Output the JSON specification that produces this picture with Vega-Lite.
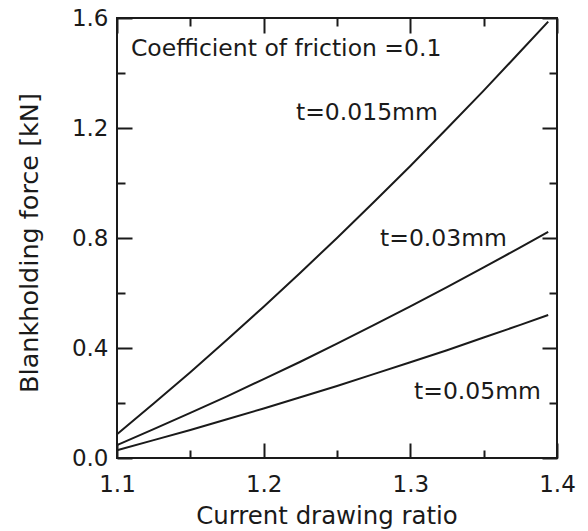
{
  "$schema": "https://vega.github.io/schema/vega-lite/v6.json",
  "width": 440,
  "height": 440,
  "autosize": {"type": "none"},
  "padding": {"left": 117, "top": 18, "right": 31, "bottom": 73},
  "background": "white",
  "config": {
    "font": "DejaVu Sans",
    "view": {"stroke": "#1a1a1a", "strokeWidth": 2},
    "axis": {"grid": false, "domain": false, "tickColor": "#1a1a1a", "tickWidth": 2, "labelColor": "#1a1a1a", "titleColor": "#1a1a1a", "labelFlush": false, "labelOverlap": false, "labelBound": false, "titleFontWeight": "normal"}
  },
  "datasets": {
    "curves": [
      {"ratio": 1.1, "force": 0.086, "t": "0.015"},
      {"ratio": 1.125, "force": 0.198, "t": "0.015"},
      {"ratio": 1.15, "force": 0.312, "t": "0.015"},
      {"ratio": 1.175, "force": 0.430, "t": "0.015"},
      {"ratio": 1.2, "force": 0.550, "t": "0.015"},
      {"ratio": 1.225, "force": 0.674, "t": "0.015"},
      {"ratio": 1.25, "force": 0.800, "t": "0.015"},
      {"ratio": 1.275, "force": 0.930, "t": "0.015"},
      {"ratio": 1.3, "force": 1.062, "t": "0.015"},
      {"ratio": 1.325, "force": 1.198, "t": "0.015"},
      {"ratio": 1.35, "force": 1.336, "t": "0.015"},
      {"ratio": 1.375, "force": 1.478, "t": "0.015"},
      {"ratio": 1.394, "force": 1.587, "t": "0.015"},
      {"ratio": 1.1, "force": 0.047, "t": "0.03"},
      {"ratio": 1.125, "force": 0.105, "t": "0.03"},
      {"ratio": 1.15, "force": 0.164, "t": "0.03"},
      {"ratio": 1.175, "force": 0.224, "t": "0.03"},
      {"ratio": 1.2, "force": 0.287, "t": "0.03"},
      {"ratio": 1.225, "force": 0.350, "t": "0.03"},
      {"ratio": 1.25, "force": 0.416, "t": "0.03"},
      {"ratio": 1.275, "force": 0.483, "t": "0.03"},
      {"ratio": 1.3, "force": 0.551, "t": "0.03"},
      {"ratio": 1.325, "force": 0.621, "t": "0.03"},
      {"ratio": 1.35, "force": 0.693, "t": "0.03"},
      {"ratio": 1.375, "force": 0.766, "t": "0.03"},
      {"ratio": 1.394, "force": 0.822, "t": "0.03"},
      {"ratio": 1.1, "force": 0.028, "t": "0.05"},
      {"ratio": 1.125, "force": 0.065, "t": "0.05"},
      {"ratio": 1.15, "force": 0.102, "t": "0.05"},
      {"ratio": 1.175, "force": 0.141, "t": "0.05"},
      {"ratio": 1.2, "force": 0.180, "t": "0.05"},
      {"ratio": 1.225, "force": 0.221, "t": "0.05"},
      {"ratio": 1.25, "force": 0.262, "t": "0.05"},
      {"ratio": 1.275, "force": 0.305, "t": "0.05"},
      {"ratio": 1.3, "force": 0.348, "t": "0.05"},
      {"ratio": 1.325, "force": 0.392, "t": "0.05"},
      {"ratio": 1.35, "force": 0.438, "t": "0.05"},
      {"ratio": 1.375, "force": 0.484, "t": "0.05"},
      {"ratio": 1.394, "force": 0.520, "t": "0.05"}
    ],
    "notes": [
      {"ratio": 1.1095, "force": 1.487, "label": "Coefficient of friction =0.1"},
      {"ratio": 1.222, "force": 1.255, "label": "t=0.015mm"},
      {"ratio": 1.2793, "force": 0.796, "label": "t=0.03mm"},
      {"ratio": 1.3025, "force": 0.241, "label": "t=0.05mm"}
    ]
  },
  "resolve": {"axis": {"x": "independent", "y": "independent"}},
  "layer": [
    {
      "data": {"name": "curves"},
      "mark": {"type": "line", "color": "#1a1a1a", "strokeWidth": 2},
      "encoding": {
        "x": {"field": "ratio", "type": "quantitative", "scale": {"domain": [1.1, 1.4], "nice": false, "zero": false},
          "axis": {"orient": "bottom", "values": [1.1, 1.2, 1.3, 1.4], "format": ".1f", "tickSize": -15, "labelFontSize": 23, "labelPadding": 30.5,
            "title": "Current drawing ratio", "titleFontSize": 24.4, "titleX": 209.5, "titleY": 58.5, "titleBaseline": "middle", "titleAlign": "center"}},
        "y": {"field": "force", "type": "quantitative", "scale": {"domain": [0, 1.6], "nice": false, "zero": false},
          "axis": {"orient": "left", "values": [0, 0.4, 0.8, 1.2, 1.6], "format": ".1f", "tickSize": -15, "labelFontSize": 23, "labelPadding": 24,
            "title": "Blankholding force [kN]", "titleFontSize": 25.5, "titleX": -88, "titleY": 224.5, "titleBaseline": "middle", "titleAlign": "center", "titleAngle": -90}},
        "detail": {"field": "t", "type": "nominal"}
      }
    },
    {
      "data": {"name": "notes"},
      "mark": {"type": "text", "align": "left", "baseline": "middle", "fontSize": 23.5, "color": "#1a1a1a"},
      "encoding": {
        "x": {"field": "ratio", "type": "quantitative", "scale": {"domain": [1.1, 1.4], "nice": false, "zero": false},
          "axis": {"orient": "bottom", "values": [1.15, 1.25, 1.35], "tickSize": -8, "labels": false, "title": null}},
        "y": {"field": "force", "type": "quantitative", "scale": {"domain": [0, 1.6], "nice": false, "zero": false},
          "axis": {"orient": "left", "values": [0.2, 0.6, 1.0, 1.4], "tickSize": -8, "labels": false, "title": null}},
        "text": {"field": "label", "type": "nominal"}
      }
    },
    {
      "data": {"name": "curves"},
      "mark": {"type": "point", "opacity": 0},
      "encoding": {
        "x": {"field": "ratio", "type": "quantitative", "scale": {"domain": [1.1, 1.4], "nice": false, "zero": false},
          "axis": {"orient": "top", "values": [1.1, 1.2, 1.3, 1.4], "tickSize": -15, "labels": false, "title": null}},
        "y": {"field": "force", "type": "quantitative", "scale": {"domain": [0, 1.6], "nice": false, "zero": false},
          "axis": {"orient": "right", "values": [0, 0.4, 0.8, 1.2, 1.6], "tickSize": -15, "labels": false, "title": null}}
      }
    },
    {
      "data": {"name": "curves"},
      "mark": {"type": "point", "opacity": 0},
      "encoding": {
        "x": {"field": "ratio", "type": "quantitative", "scale": {"domain": [1.1, 1.4], "nice": false, "zero": false},
          "axis": {"orient": "top", "values": [1.15, 1.25, 1.35], "tickSize": -8, "labels": false, "title": null}},
        "y": {"field": "force", "type": "quantitative", "scale": {"domain": [0, 1.6], "nice": false, "zero": false},
          "axis": {"orient": "right", "values": [0.2, 0.6, 1.0, 1.4], "tickSize": -8, "labels": false, "title": null}}
      }
    }
  ]
}
